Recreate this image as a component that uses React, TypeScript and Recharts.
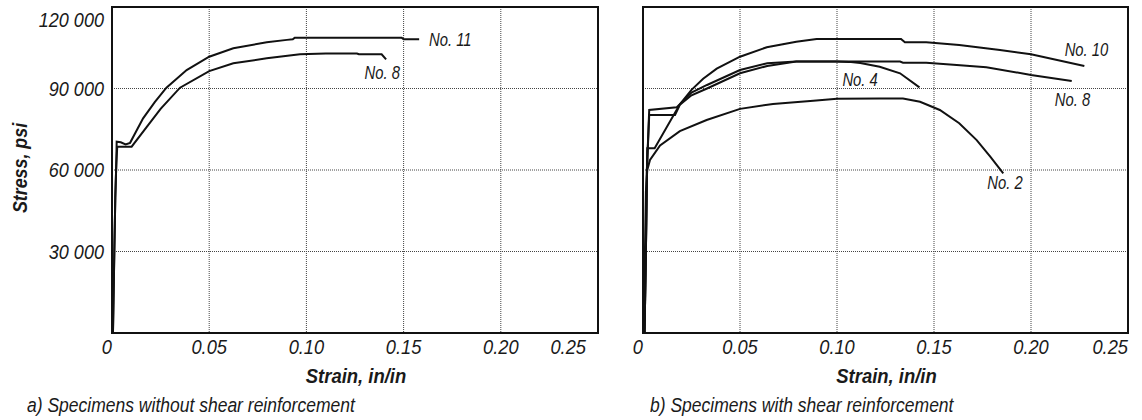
import { CartesianGrid, Label, Line, LineChart, ReferenceArea, ReferenceDot, XAxis, YAxis } from "recharts";

const strainTicks = [0, 0.05, 0.1, 0.15, 0.2, 0.25];
const strainTickLabels = ["0", "0.05", "0.10", "0.15", "0.20", "0.25"];
const stressTicks = [30000, 60000, 90000, 120000];
const stressTickLabels = ["30 000", "60 000", "90 000", "120 000"];

// a) without shear reinforcement, [strain, stress]
const aNo11 = [
  [0.0005, 0], [0.0012, 30000], [0.0017, 50000], [0.0022, 62000], [0.0024, 70400],
  [0.0045, 70200], [0.007, 69400], [0.0093, 70000], [0.013, 75000], [0.016, 79000],
  [0.022, 85000], [0.028, 90300], [0.0384, 96800], [0.05, 101700], [0.0624, 104800],
  [0.0796, 107000], [0.09, 107900], [0.093, 108100], [0.094, 108700], [0.149, 108700],
  [0.15, 108100], [0.158, 108100],
];
const aNo8 = [
  [0.0005, 0], [0.0012, 30000], [0.0017, 50000], [0.0022, 62000], [0.0027, 68600],
  [0.006, 68600], [0.0101, 68600], [0.0179, 75900], [0.025, 82500], [0.035, 90300],
  [0.05, 96400], [0.0624, 99300], [0.0796, 101100], [0.0967, 102600], [0.11, 102900],
  [0.126, 102900], [0.127, 102600], [0.1387, 102600], [0.141, 100700],
];

// b) with shear reinforcement, [strain, stress]
const bNo10 = [
  [0.0008, 0], [0.0015, 30000], [0.002, 55000], [0.0022, 68000], [0.006, 68000],
  [0.019, 84200], [0.025, 89500], [0.031, 93600], [0.038, 97300], [0.05, 101700],
  [0.0638, 105200], [0.079, 107200], [0.0895, 108200], [0.133, 108200], [0.135, 107000],
  [0.146, 107000], [0.163, 106000], [0.184, 104200], [0.2, 102600], [0.2275, 98300],
];
const bNo8 = [
  [0.0008, 0], [0.0015, 30000], [0.002, 60000], [0.0032, 82100], [0.0174, 83100],
  [0.019, 84200], [0.025, 88500], [0.033, 91300], [0.05, 96800], [0.064, 99300],
  [0.079, 99900], [0.1, 99900], [0.1325, 99900], [0.134, 99500], [0.146, 99500],
  [0.16, 98700], [0.177, 97800], [0.2, 95000], [0.221, 92800],
];
const bNo4 = [
  [0.0008, 0], [0.0015, 30000], [0.002, 60000], [0.0032, 80200], [0.0165, 80200],
  [0.019, 84000], [0.025, 87500], [0.033, 90000], [0.05, 95600], [0.064, 98300],
  [0.079, 99900], [0.1, 99900], [0.106, 99800], [0.112, 99400], [0.122, 98000],
  [0.1325, 95600], [0.1425, 90400],
];
const bNo2 = [
  [0.0005, 0], [0.001, 30000], [0.0015, 52000], [0.0022, 60000], [0.0036, 63700],
  [0.0088, 69000], [0.019, 74300], [0.0328, 78400], [0.05, 82500], [0.067, 84300],
  [0.0878, 85500], [0.1, 86200], [0.122, 86300], [0.134, 86300], [0.1428, 85100],
  [0.153, 82100], [0.163, 77200], [0.172, 71000], [0.179, 64900], [0.1857, 58800],
];

const aNotes = [["No. 11", 0.174, 108200], ["No. 8", 0.139, 96000]];
const bNotes = [["No. 10", 0.2286, 104200], ["No. 8", 0.2214, 86000], ["No. 4", 0.1119, 93400], ["No. 2", 0.1866, 55300]];

const font = "'Liberation Sans', Arial, sans-serif";
const ink = "#111";

const toPoints = (rows: number[][]) => rows.map(([x, y]) => ({ x, y }));

// the original uses a condensed face; squeeze Liberation Sans horizontally
type NarrowProps = {
  x: number; y: number; size: number; squeeze: number; children: string;
  anchor?: string; bold?: boolean; angle?: number; dy?: string;
};
const Narrow = ({ x, y, size, squeeze, children, anchor = "middle", bold = false, angle = 0, dy = "0.355em" }: NarrowProps) => (
  <text transform={`translate(${x},${y}) rotate(${angle}) scale(${squeeze},1)`} x={0} y={0} dy={dy}
    textAnchor={anchor} fontFamily={font} fontStyle="italic" fontWeight={bold ? "bold" : "normal"}
    fontSize={size} fill="#1a1a1a">
    {children}
  </text>
);

const StrainTick = (props: any) => {
  const { x, y, index } = props;
  const edge = index === 0 || index === strainTicks.length - 1;
  return <Narrow x={x} y={y} dy="0.71em" size={21} squeeze={0.87} anchor={edge ? "end" : "middle"}>{strainTickLabels[index]}</Narrow>;
};

const StressTick = (props: any) => {
  const { x, y, payload } = props;
  const i = stressTicks.indexOf(payload.value);
  // top label sits just under the frame, as in the original
  const shift = i === stressTicks.length - 1 ? 11 : 0;
  return <Narrow x={x} y={y + shift} size={21} squeeze={0.86} anchor="end">{stressTickLabels[i]}</Narrow>;
};

const StrainTitle = (props: any) => {
  const { x, y, width, height } = props.viewBox;
  return <Narrow x={x + width / 2 + 1} y={y + height / 2 - 1} size={21} squeeze={0.88} bold>Strain, in/in</Narrow>;
};

const StressTitle = (props: any) => {
  const { y, height } = props.viewBox;
  return <Narrow x={20} y={y + height / 2 - 2} size={21} squeeze={0.85} bold angle={-90}>Stress, psi</Narrow>;
};

const NoteLabel = (text: string) => (props: any) => {
  const { x, y } = props.viewBox;
  return <Narrow x={x} y={y} size={18.5} squeeze={0.8}>{text}</Narrow>;
};

type PanelProps = {
  width: number;
  margin: { top: number; right: number; bottom: number; left: number };
  series: number[][][];
  notes: (string | number)[][];
  showStress: boolean;
};

const Panel = ({ width, margin, series, notes, showStress }: PanelProps) => (
  <LineChart width={width} height={420} margin={margin}>
    <CartesianGrid stroke="#444" strokeDasharray="1 1" />
    <XAxis type="number" dataKey="x" domain={[0, 0.25]} ticks={strainTicks} height={87}
      axisLine={false} tickLine={false} tickSize={0} tickMargin={6} tick={<StrainTick />}
      allowDataOverflow>
      <Label content={<StrainTitle />} />
    </XAxis>
    <YAxis type="number" dataKey="y" domain={[0, 120000]} ticks={stressTicks} hide={!showStress}
      width={112} axisLine={false} tickLine={false} tickSize={0} tickMargin={8}
      tick={<StressTick />}>
      {showStress && <Label content={<StressTitle />} />}
    </YAxis>
    <ReferenceArea x1={0} x2={0.25} y1={0} y2={120000} fill="none" stroke={ink} strokeWidth={2} />
    {series.map((rows, i) => (
      <Line key={i} data={toPoints(rows)} dataKey="y" type="linear" dot={false}
        stroke={ink} strokeWidth={2} isAnimationActive={false} />
    ))}
    {notes.map(([text, x, y], i) => (
      <ReferenceDot key={i} x={x as number} y={y as number} r={0} fill="none" stroke="none"
        label={{ content: NoteLabel(text as string) }} />
    ))}
  </LineChart>
);

const captionStyle: React.CSSProperties = {
  position: "absolute", top: 395, fontFamily: font, fontStyle: "italic",
  fontSize: 20, lineHeight: "20px", color: "#1a1a1a", whiteSpace: "nowrap",
  transform: "scaleX(0.875)", transformOrigin: "left center",
};

export default function App() {
  return (
    <div style={{ position: "absolute", left: 0, top: 0, width: 1142, height: 420, background: "#fff" }}>
      <div style={{ position: "absolute", left: 0, top: 0 }}>
        <Panel width={600} margin={{ top: 7, right: 2, bottom: 0, left: 0 }}
          series={[aNo11, aNo8]} notes={aNotes} showStress />
      </div>
      <div style={{ position: "absolute", left: 600, top: 0 }}>
        <Panel width={542} margin={{ top: 7, right: 14, bottom: 0, left: 43 }}
          series={[bNo10, bNo8, bNo4, bNo2]} notes={bNotes} showStress={false} />
      </div>
      <div style={{ ...captionStyle, left: 27 }}>a) Specimens without shear reinforcement</div>
      <div style={{ ...captionStyle, left: 650 }}>b) Specimens with shear reinforcement</div>
    </div>
  );
}
